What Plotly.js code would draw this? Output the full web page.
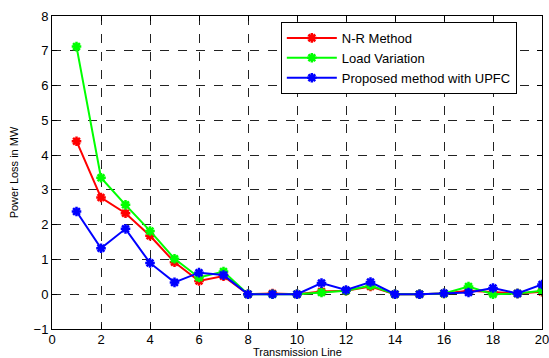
<!DOCTYPE html>
<html><head><meta charset="utf-8">
<script src="https://cdn.plot.ly/plotly-3.0.1.min.js"></script>
<style>html,body{margin:0;padding:0;background:#fff;}#c{width:549px;height:358px;}</style>
</head><body><div id="c"></div>
<script>
const lines = [1,2,3,4,5,6,7,8,9,10,11,12,13,14,15,16,17,18,19,20];
const nrMethod = [4.4,2.78,2.33,1.68,0.92,0.38,0.52,0,0.02,0,0.08,0.1,0.22,0,0,0.02,0.1,0.05,0.02,0.07];
const loadVariation = [7.12,3.35,2.57,1.82,1.02,0.48,0.65,0,0,0,0.05,0.1,0.25,0,0,0.02,0.22,0,0.02,0.1];
const upfc = [2.38,1.32,1.88,0.9,0.34,0.62,0.55,0,0,0,0.32,0.12,0.35,0,0,0.03,0.05,0.18,0.02,0.28];
const names = ['N-R Method','Load Variation','Proposed method with UPFC'];
const colors = ['#ff0000','#00ff00','#0000ff'];
const series = [nrMethod, loadVariation, upfc];
const traces = series.map((s,i)=>({
  x: lines, y: s, name: names[i], type:'scatter', mode:'lines+markers',
  line:{color:colors[i], width:2},
  marker:{symbol:'asterisk-open', size:8, color:colors[i], line:{color:colors[i], width:2.5}}
}));
const F = 'Liberation Sans, Arial, sans-serif';
const axisBase = {showline:true, mirror:'ticks', linecolor:'#000', linewidth:1, ticks:'inside', ticklen:5, tickcolor:'#000',
  showgrid:true, gridcolor:'#222', griddash:'dash', gridwidth:1, zeroline:false,
  tickfont:{family:F, size:13, color:'#000'}, ticklabeloverflow:'allow'};
const layout = {
  width:549, height:358, margin:{l:52, r:7, t:16, b:29},
  paper_bgcolor:'#fff', plot_bgcolor:'#fff', showlegend:true,
  xaxis: Object.assign({}, axisBase, {range:[0,20], dtick:2, tick0:0, ticklabelstandoff:-2}),
  yaxis: Object.assign({}, axisBase, {range:[-1,8], dtick:1, tick0:0,
    title:{text:'Power Loss in MW', font:{family:F, size:11, color:'#000'}, standoff:12}}),
  annotations:[{text:'Transmission Line', xref:'paper', yref:'paper', x:0.5, y:-0.0735, xanchor:'center', yanchor:'middle',
    showarrow:false, font:{family:F, size:11, color:'#000'}}],
  legend:{x:0.467, y:0.981, xanchor:'left', yanchor:'top', bgcolor:'#fff', bordercolor:'#000', borderwidth:1,
    font:{family:F, size:13, color:'#000'}, tracegroupgap:0, itemwidth:50}
};
Plotly.newPlot('c', traces, layout, {displayModeBar:false, staticPlot:true});
</script></body></html>
